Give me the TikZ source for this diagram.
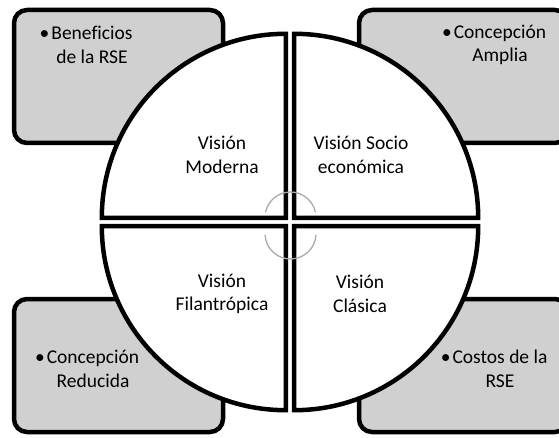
\documentclass[tikz,border=0pt]{standalone}
\usepackage{fontspec}
\setmainfont{Carlito}[Ligatures=CommonOff]
\usetikzlibrary{positioning}

\definecolor{boxgray}{RGB}{208,208,208}
\definecolor{arcgray}{RGB}{170,170,170}

\begin{document}
\begin{tikzpicture}[
		x=1pt, y=1pt,
		corner/.style={draw=black, fill=boxgray, line width=4.5pt, rounded corners=13pt},
		quad/.style={draw=black, fill=white, line width=4.5pt},
		turn/.style={draw=arcgray, line width=1.3pt},
		label/.style={align=center, inner sep=0pt, text=black, font=\fontsize{19.5}{23.5}\selectfont}
]
\useasboundingbox (0,0) rectangle (559,437);
\clip (0,0) rectangle (559,437);

% corner boxes
\draw [corner] (14,294) rectangle (223,427);
\draw [corner] (359,294) rectangle (568,427);
\draw [corner] (14,5) rectangle (223,138);
\draw [corner] (359,5) rectangle (568,138);

% the four quarters
\coordinate (C) at (290,215);
\draw [quad] (285.8,219.2) -- ++(-184,0) arc (180:90:184) -- cycle;
\draw [quad] (294.2,219.2) -- ++(0,184) arc (90:0:184) -- cycle;
\draw [quad] (285.8,210.8) -- ++(0,-184) arc (270:180:184) -- cycle;
\draw [quad] (294.2,210.8) -- ++(184,0) arc (0:-90:184) -- cycle;

% turning arcs in the middle
\draw [turn] ([shift={(12:25.5)}]290.5,219.5) arc (12:168:25.5);
\draw [turn] ([shift={(183:25.5)}]290.5,203.5) arc (183:357:25.5);

% texts
\node [label] (Moderna) at (222,282) {Visión\\Moderna};
\node [label] (Socio) at (361,282) {Visión Socio\\económica};
\node [label] (Filan) at (222,143) {Visión\\Filantrópica};
\node [label] (Clasica) at (360,143) {Visión\\Clásica};

\node [label] (Benef) at (92,392) {\llap{•\hspace{2pt}}Beneficios\\de la RSE};
\node [label] (Amplia) at (500,392) {\llap{•\hspace{2pt}}Concepción\\Amplia};
\node [label] (Reduc) at (93,68) {\llap{•\hspace{2pt}}Concepción\\Reducida};
\node [label] (Costos) at (500,68) {\llap{•\hspace{2pt}}Costos de la\\RSE};

\end{tikzpicture}
\end{document}
